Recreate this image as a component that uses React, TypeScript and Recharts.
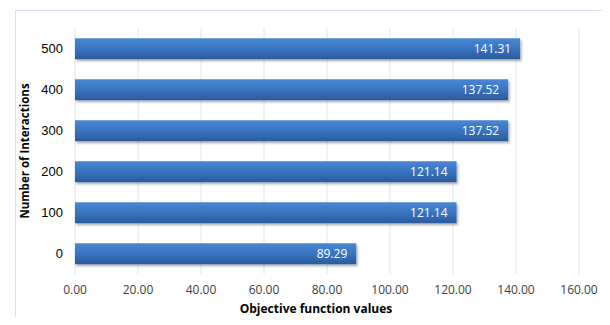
import { BarChart, Bar, XAxis, YAxis, CartesianGrid, LabelList, Label } from 'recharts';

const iterations = ['0', '100', '200', '300', '400', '500'];
const objectiveValues = [89.29, 121.14, 121.14, 137.52, 137.52, 141.31];
const xTicks = [0, 20, 40, 60, 80, 100, 120, 140, 160];

const data = iterations.map((it, i) => ({ it, value: objectiveValues[i] }));

export default function App() {
  return (
    <div style={{ position: 'relative', margin: -8, width: 610, height: 325, background: '#fff' }}>
      <div
        style={{
          position: 'absolute',
          left: 15,
          top: 10,
          width: 591,
          height: 320,
          border: '1px solid #d6e2f2',
          boxSizing: 'border-box',
        }}
      />
      <div style={{ position: 'absolute', left: 0, top: 0 }}>
        <BarChart
          width={610}
          height={325}
          data={data}
          layout="vertical"
          margin={{ top: 28, right: 31, bottom: 0, left: 0 }}
          barCategoryGap="25%"
        >
          <defs>
            <linearGradient id="barFill" x1="0" y1="0" x2="0" y2="1">
              <stop offset="0%" stopColor="#4a86d2" />
              <stop offset="45%" stopColor="#3a76c2" />
              <stop offset="100%" stopColor="#2b5a9c" />
            </linearGradient>
            <filter id="barShadow" x="-5%" y="-20%" width="110%" height="160%">
              <feDropShadow dx="1.5" dy="2" stdDeviation="1.2" floodColor="#000" floodOpacity="0.3" />
            </filter>
          </defs>
          <CartesianGrid horizontal={false} stroke="#dce6f2" />
          <XAxis
            type="number"
            domain={[0, 160]}
            ticks={xTicks}
            height={51}
            tickFormatter={(v: number) => v.toFixed(2)}
            axisLine={false}
            tickLine={false}
            tickSize={0}
            tickMargin={11}
            tick={{ fill: '#404040', fontSize: 12, fontFamily: 'Open Sans, sans-serif' }}
          >
            <Label
              value="Objective function values"
              position="insideBottom"
              offset={12}
              dx={-11}
              style={{ fill: '#000', fontSize: 12, fontWeight: 'bold', fontFamily: 'Open Sans, sans-serif' }}
            />
          </XAxis>
          <YAxis
            type="category"
            dataKey="it"
            reversed
            width={75}
            axisLine={false}
            tickLine={false}
            tickSize={0}
            tickMargin={12}
            tick={{ fill: '#000', fontSize: 13, fontFamily: 'Liberation Sans, Arial, sans-serif' }}
          >
            <Label
              value="Number of Interactions"
              angle={-90}
              position="insideLeft"
              offset={25}
              style={{ textAnchor: 'middle', fill: '#000', fontSize: 11.5, fontWeight: 'bold', fontFamily: 'Open Sans, sans-serif' }}
            />
          </YAxis>
          <Bar dataKey="value" fill="url(#barFill)" filter="url(#barShadow)" isAnimationActive={false}>
            <LabelList
              dataKey="value"
              position="insideRight"
              offset={9}
              formatter={(v: number) => v.toFixed(2)}
              style={{ fill: '#fff', fontSize: 12, fontFamily: 'Open Sans, sans-serif' }}
            />
          </Bar>
        </BarChart>
      </div>
    </div>
  );
}
